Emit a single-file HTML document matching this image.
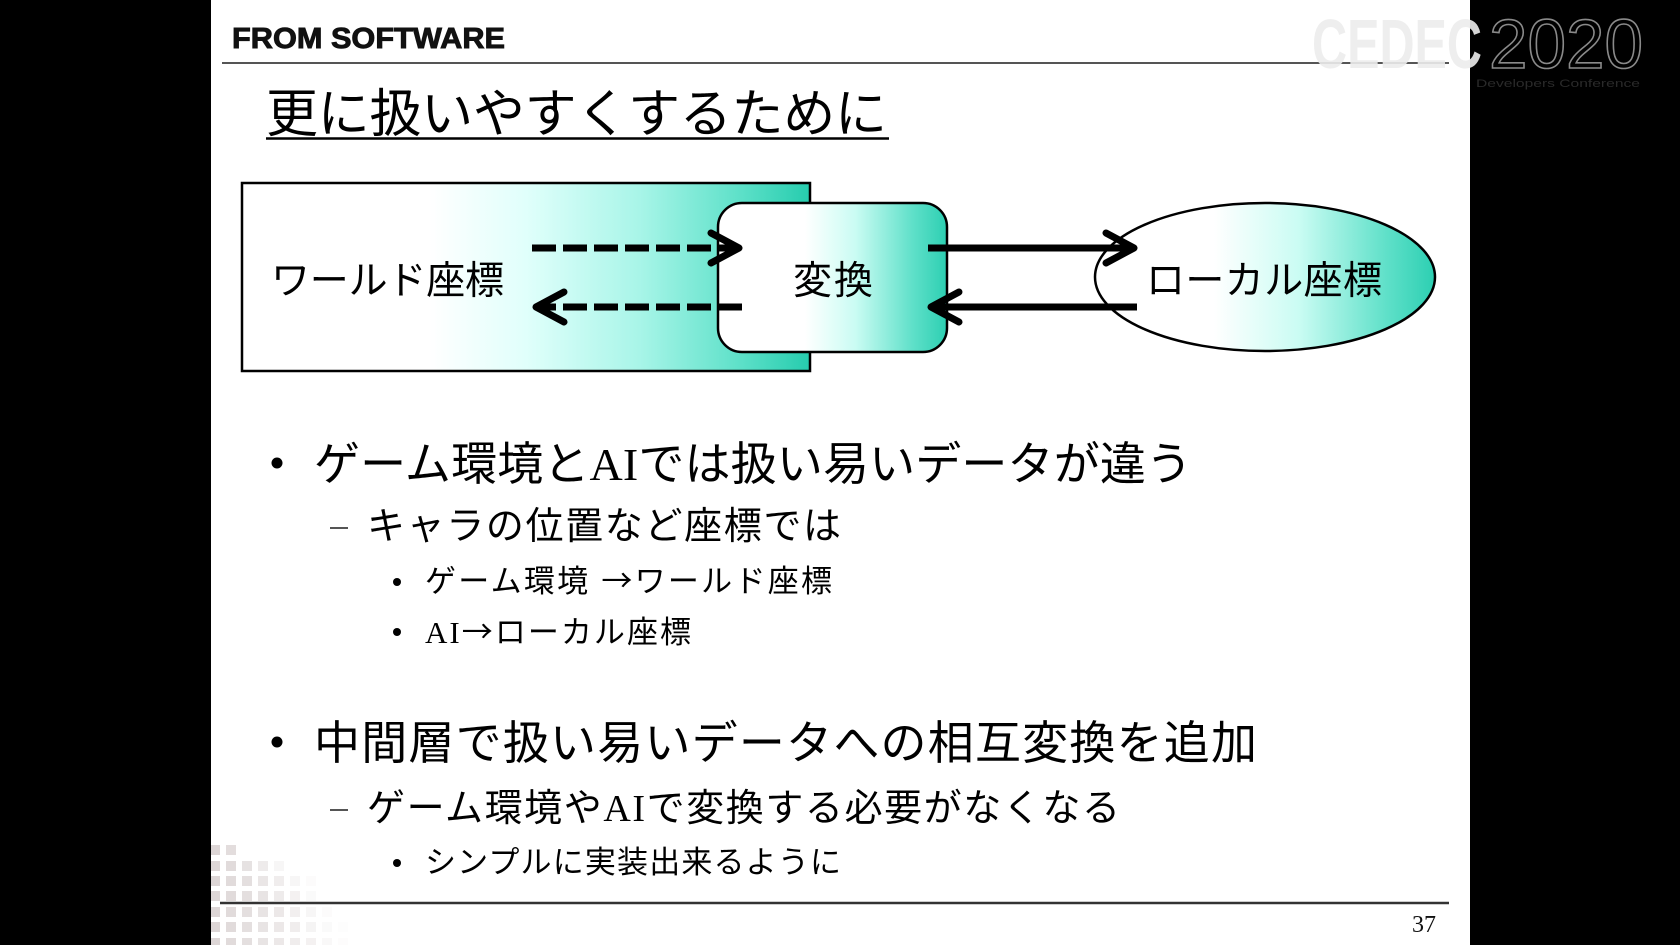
<!DOCTYPE html>
<html><head><meta charset="utf-8">
<style>
html,body{margin:0;padding:0;background:#000;}
svg{display:block;}
.jp{font-family:"Liberation Sans","Noto Sans CJK JP",sans-serif;fill:#000;}
.sf{font-family:"Liberation Serif","Noto Serif CJK SC",serif;}
.ar{font-family:"Noto Sans CJK JP",sans-serif;}
</style></head>
<body>
<svg width="1680" height="945" viewBox="0 0 1680 945" xmlns="http://www.w3.org/2000/svg">
<defs>
<linearGradient id="g1" x1="0" y1="0" x2="1" y2="0">
<stop offset="0" stop-color="#ffffff"/><stop offset="0.33" stop-color="#ffffff"/>
<stop offset="0.5" stop-color="#e0fffb"/><stop offset="0.7" stop-color="#a8f5e8"/>
<stop offset="0.88" stop-color="#5ce0c8"/><stop offset="1" stop-color="#26ccae"/>
</linearGradient>
<linearGradient id="g2" x1="0" y1="0" x2="1" y2="0">
<stop offset="0" stop-color="#ffffff"/><stop offset="0.38" stop-color="#ffffff"/>
<stop offset="0.6" stop-color="#cafcf3"/><stop offset="0.85" stop-color="#5fe0c9"/>
<stop offset="1" stop-color="#2ccfb2"/>
</linearGradient>
<linearGradient id="g3" x1="0" y1="0" x2="1" y2="0">
<stop offset="0" stop-color="#ffffff"/><stop offset="0.35" stop-color="#ffffff"/>
<stop offset="0.6" stop-color="#cafcf3"/><stop offset="0.85" stop-color="#62e1ca"/>
<stop offset="1" stop-color="#2ccfb2"/>
</linearGradient>
</defs>

<rect x="0" y="0" width="1680" height="945" fill="#000"/>
<rect x="211" y="0" width="1259" height="945" fill="#fff"/>

<!-- decorative squares -->
<g fill="#d9d2d2">
<rect x="211" y="845" width="9" height="10" opacity="0.9"/><rect x="226" y="845" width="10" height="10" opacity="0.75"/>
<rect x="211" y="861" width="9" height="10" opacity="0.9"/><rect x="226" y="861" width="10" height="10" opacity="0.8"/><rect x="242" y="861" width="10" height="10" opacity="0.65"/><rect x="258" y="861" width="10" height="10" opacity="0.45"/><rect x="274" y="861" width="10" height="10" opacity="0.2"/>
<rect x="211" y="876" width="9" height="10" opacity="0.9"/><rect x="226" y="876" width="10" height="10" opacity="0.8"/><rect x="242" y="876" width="10" height="10" opacity="0.7"/><rect x="258" y="876" width="10" height="10" opacity="0.55"/><rect x="274" y="876" width="10" height="10" opacity="0.4"/><rect x="290" y="876" width="10" height="10" opacity="0.2"/><rect x="306" y="876" width="10" height="10" opacity="0.08"/>
<rect x="211" y="891" width="9" height="10" opacity="0.9"/><rect x="226" y="891" width="10" height="10" opacity="0.8"/><rect x="242" y="891" width="10" height="10" opacity="0.7"/><rect x="258" y="891" width="10" height="10" opacity="0.6"/><rect x="274" y="891" width="10" height="10" opacity="0.45"/><rect x="290" y="891" width="10" height="10" opacity="0.3"/><rect x="306" y="891" width="10" height="10" opacity="0.12"/>
<rect x="211" y="907" width="9" height="10" opacity="0.9"/><rect x="226" y="907" width="10" height="10" opacity="0.8"/><rect x="242" y="907" width="10" height="10" opacity="0.7"/><rect x="258" y="907" width="10" height="10" opacity="0.6"/><rect x="274" y="907" width="10" height="10" opacity="0.5"/><rect x="290" y="907" width="10" height="10" opacity="0.35"/><rect x="306" y="907" width="10" height="10" opacity="0.2"/><rect x="322" y="907" width="10" height="10" opacity="0.08"/>
<rect x="211" y="922" width="9" height="10" opacity="0.9"/><rect x="226" y="922" width="10" height="10" opacity="0.8"/><rect x="242" y="922" width="10" height="10" opacity="0.7"/><rect x="258" y="922" width="10" height="10" opacity="0.6"/><rect x="274" y="922" width="10" height="10" opacity="0.5"/><rect x="290" y="922" width="10" height="10" opacity="0.4"/><rect x="306" y="922" width="10" height="10" opacity="0.25"/><rect x="322" y="922" width="10" height="10" opacity="0.12"/><rect x="338" y="922" width="10" height="10" opacity="0.05"/>
<rect x="211" y="938" width="9" height="7" opacity="0.9"/><rect x="226" y="938" width="10" height="7" opacity="0.8"/><rect x="242" y="938" width="10" height="7" opacity="0.7"/><rect x="258" y="938" width="10" height="7" opacity="0.6"/><rect x="274" y="938" width="10" height="7" opacity="0.5"/><rect x="290" y="938" width="10" height="7" opacity="0.4"/><rect x="306" y="938" width="10" height="7" opacity="0.3"/><rect x="322" y="938" width="10" height="7" opacity="0.15"/><rect x="338" y="938" width="10" height="7" opacity="0.06"/>
</g>

<!-- header -->
<text x="232" y="48" font-family="Liberation Sans, sans-serif" font-weight="bold" font-size="29" fill="#111" stroke="#111" stroke-width="0.9" textLength="273" lengthAdjust="spacingAndGlyphs">FROM SOFTWARE</text>
<line x1="222" y1="63" x2="1449" y2="63" stroke="#555" stroke-width="2"/>

<!-- CEDEC logo -->
<text x="1312" y="68" font-family="Liberation Sans, sans-serif" font-weight="bold" font-size="70" fill="#ececec" fill-opacity="0.9" textLength="170" lengthAdjust="spacingAndGlyphs">CEDEC</text>
<text x="1489" y="68" font-family="Liberation Sans, sans-serif" font-size="70" fill="none" stroke="#8a8a8a" stroke-width="1.6" textLength="154" lengthAdjust="spacingAndGlyphs">2020</text>
<text x="1476" y="87" font-family="Liberation Sans, sans-serif" font-size="11" fill="#2a2a2a" textLength="164" lengthAdjust="spacingAndGlyphs">Developers Conference</text>

<!-- title -->
<text class="jp" x="266" y="132" font-size="52" textLength="621">更に扱いやすくするために</text>
<line x1="266" y1="138.5" x2="889" y2="138.5" stroke="#000" stroke-width="2.5"/>

<!-- diagram -->
<rect x="242" y="183" width="568" height="188" fill="url(#g1)" stroke="#000" stroke-width="2.5"/>
<rect x="718" y="203" width="229" height="149" rx="24" ry="24" fill="url(#g2)" stroke="#000" stroke-width="2.5"/>
<ellipse cx="1265" cy="277" rx="170" ry="74" fill="url(#g3)" stroke="#000" stroke-width="2.5"/>

<text class="jp" x="271" y="294" font-size="39" textLength="233">ワールド座標</text>
<text class="jp" x="793" y="294" font-size="39" textLength="80">変換</text>
<text class="jp" x="1146" y="294" font-size="39" textLength="236">ローカル座標</text>

<g stroke="#000" stroke-width="7" fill="none" stroke-linecap="round" stroke-linejoin="round">
<line x1="532" y1="248" x2="736" y2="248" stroke-dasharray="24 7" stroke-linecap="butt"/>
<polyline points="711,233 739,248 711,263"/>
<line x1="742" y1="307" x2="540" y2="307" stroke-dasharray="24 7" stroke-linecap="butt"/>
<polyline points="564,292 536,307 564,322"/>
<line x1="928" y1="248" x2="1132" y2="248" stroke-linecap="butt"/>
<polyline points="1106,233 1134,248 1106,263"/>
<line x1="1137" y1="307" x2="934" y2="307" stroke-linecap="butt"/>
<polyline points="959,292 931,307 959,322"/>
</g>

<!-- body text -->
<circle cx="277" cy="463" r="5.5" fill="#000"/>
<text class="jp" x="314" y="480" font-size="46" textLength="878">ゲーム環境と<tspan class="sf">AI</tspan>では扱い易いデータが違う</text>

<line x1="330" y1="528" x2="348" y2="528" stroke="#555" stroke-width="2"/>
<text class="jp" x="367" y="539" font-size="38" textLength="474">キャラの位置など座標では</text>

<circle cx="397" cy="582" r="4" fill="#000"/>
<text class="jp" x="425" y="592" font-size="31" textLength="407">ゲーム環境 <tspan class="ar">→</tspan>ワールド座標</text>

<circle cx="397" cy="632" r="4" fill="#000"/>
<text class="jp" x="425" y="643" font-size="31" textLength="266"><tspan class="sf">AI</tspan><tspan class="ar">→</tspan>ローカル座標</text>

<circle cx="277" cy="742" r="5.5" fill="#000"/>
<text class="jp" x="314" y="759" font-size="46" textLength="943">中間層で扱い易いデータへの相互変換を追加</text>

<line x1="330" y1="810" x2="348" y2="810" stroke="#555" stroke-width="2"/>
<text class="jp" x="367" y="821" font-size="38" textLength="753">ゲーム環境や<tspan class="sf">AI</tspan>で変換する必要がなくなる</text>

<circle cx="397" cy="863" r="4" fill="#000"/>
<text class="jp" x="425" y="873" font-size="31" textLength="416">シンプルに実装出来るように</text>

<!-- footer -->
<line x1="220" y1="903" x2="1449" y2="903" stroke="#333" stroke-width="2.5"/>
<text x="1412" y="932" font-family="Liberation Serif, serif" font-size="24" fill="#111" textLength="24">37</text>
</svg>
</body></html>
